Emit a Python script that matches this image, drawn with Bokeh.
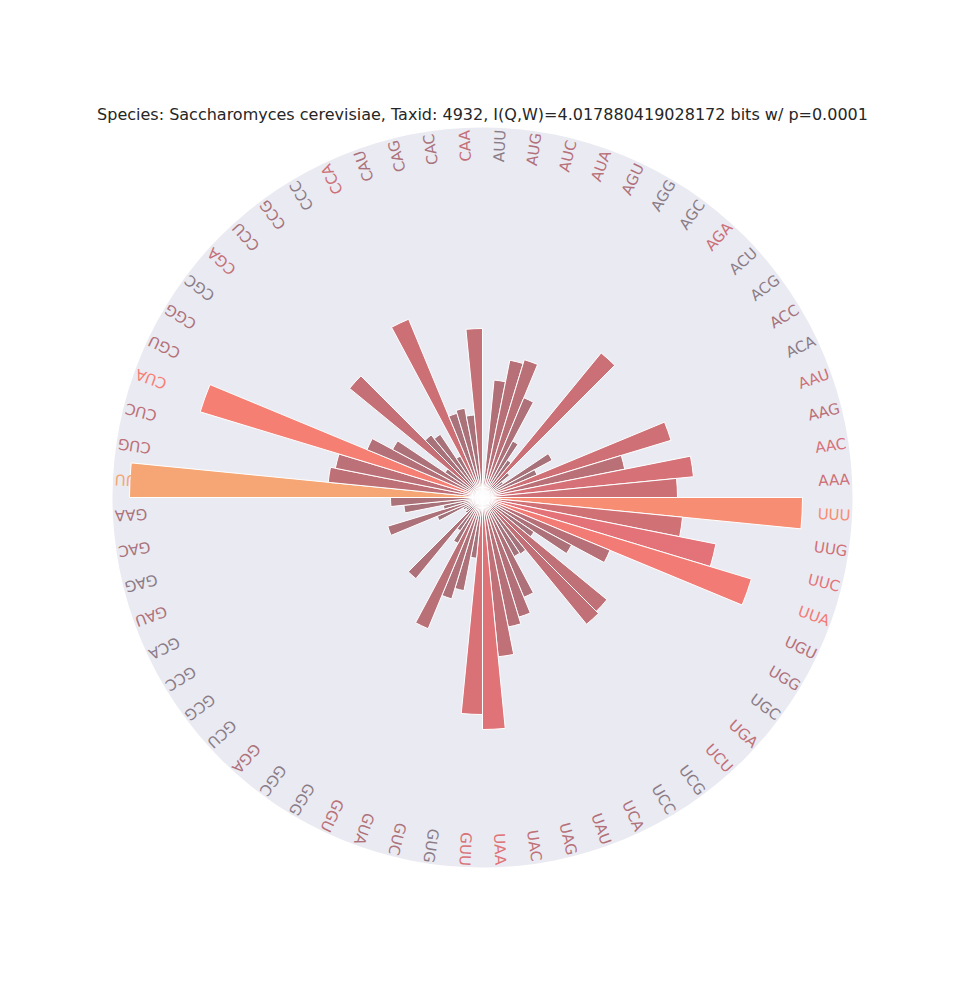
import numpy as np
from bokeh.plotting import figure
from bokeh.models import ColumnDataSource
from bokeh.core.properties import value
from bokeh.embed import file_html
from bokeh.resources import INLINE

codons = ["UUU","UUG","UUC","UUA","UGU","UGG","UGC","UGA","UCU","UCG","UCC","UCA","UAU","UAG","UAC","UAA",
          "GUU","GUG","GUC","GUA","GGU","GGG","GGC","GGA","GCU","GCG","GCC","GCA","GAU","GAG","GAC","GAA",
          "CUU","CUG","CUC","CUA","CGU","CGG","CGC","CGA","CCU","CCG","CCC","CCA","CAU","CAG","CAC","CAA",
          "AUU","AUG","AUC","AUA","AGU","AGG","AGC","AGA","ACU","ACG","ACC","ACA","AAU","AAG","AAC","AAA"]
values = [320,201,238,281,138,101,62,161,164,68,67,108,125,132,160,232,
          217,61,95,106,142,52,40,105,22,20,22,49,99,40,79,92,
          353,155,150,295,125,102,45,172,81,76,47,193,88,91,83,169,
          15,118,140,144,108,64,45,187,35,25,79,59,197,145,212,195]
title = "Species: Saccharomyces cerevisiae, Taxid: 4932, I(Q,W)=4.017880419028172 bits w/ p=0.0001"

stops = [(0.0, (150,118,126)), (0.35, (178,112,120)), (0.55, (205,112,118)),
         (0.7, (232,116,120)), (0.85, (248,128,116)), (1.0, (245,166,116))]
def cmap(t):
    for (a, ca), (b, cb) in zip(stops[:-1], stops[1:]):
        if t <= b:
            f = (t - a) / (b - a)
            c = [int(round(ca[k] + f * (cb[k] - ca[k]))) for k in range(3)]
            return "#%02x%02x%02x" % tuple(c)
    return "#%02x%02x%02x" % stops[-1][1]

n = len(codons)
step = 2 * np.pi / n
vals = np.array(values, dtype=float)
vmax = vals.max()
cols = [cmap(v / vmax) for v in vals]
idx = np.arange(n)
start = -(idx + 1) * step
end = -idx * step
mid = -(idx + 0.5) * step

lab_cols = []
for v in vals:
    t = v / vmax
    lab_cols.append(cmap(t) if t > 0.2 else "#8a7c86")

src = ColumnDataSource(dict(start=start, end=end, r=vals, c=cols))
R_lab = 352
lsrc = ColumnDataSource(dict(x=R_lab * np.cos(mid), y=R_lab * np.sin(mid), t=codons,
                             a=mid, c=lab_cols))

W, H = 940, 980
p = figure(width=W, height=H, x_range=(-482, 458), y_range=(-483, 497),
           output_backend="svg", toolbar_location=None, min_border=0)
p.axis.visible = False
p.grid.visible = False
p.outline_line_color = None
p.background_fill_color = "white"

p.circle(x=0, y=0, radius=370, fill_color="#eaeaf2", line_color=None)
p.annular_wedge(x=0, y=0, inner_radius=0, outer_radius="r", start_angle="start", end_angle="end",
                fill_color="c", line_color="white", line_width=1, source=src)
for rr, al in [(14, 0.25), (8, 0.4), (4, 0.7)]:
    p.circle(x=0, y=0, radius=rr, fill_color="white", fill_alpha=al, line_color=None)
p.text(x="x", y="y", text="t", angle="a", text_color="c", source=lsrc,
       text_align="center", text_baseline="middle", text_font=value("DejaVu Sans"),
       text_font_size="15px")
p.text(x=[0], y=[383], text=[title], text_align="center", text_baseline="middle",
       text_font=value("DejaVu Sans"), text_font_size="16px", text_color="#262626")

open("out.html", "w").write(file_html(p, INLINE))
